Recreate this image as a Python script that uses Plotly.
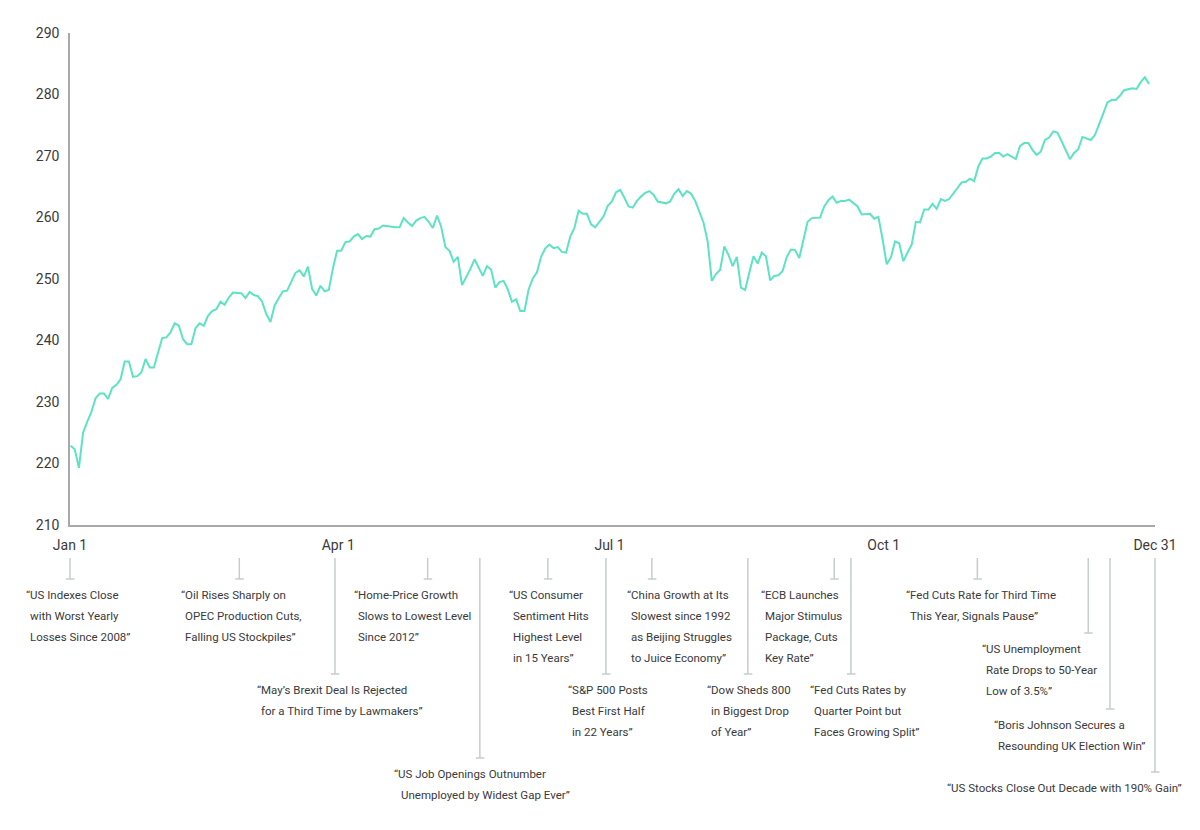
import numpy as np
import plotly.graph_objects as go

# ---------------- data ----------------
values = [
    222.9, 222.3, 219.3, 225.0, 226.8, 228.4, 230.6, 231.4, 231.4, 230.5,
    232.3, 232.8, 233.7, 236.6, 236.6, 234.1, 234.2, 234.8, 237.0, 235.6,
    235.6, 237.9, 240.4, 240.5, 241.3, 242.8, 242.4, 240.2, 239.4, 239.4,
    242.0, 242.8, 242.4, 244.0, 244.8, 245.1, 246.3, 245.8, 247.0, 247.8,
    247.8, 247.7, 246.9, 247.9, 247.4, 247.2, 246.3, 244.3, 243.0, 245.7,
    246.9, 248.0, 248.1, 249.7, 251.0, 251.4, 250.4, 252.0, 248.4, 247.3,
    248.9, 248.0, 248.2, 251.7, 254.6, 254.6, 256.0, 256.1, 256.9, 257.3,
    256.5, 257.0, 256.9, 258.1, 258.2, 258.7, 258.6, 258.4, 258.4, 258.4,
    259.9, 259.2, 258.6, 259.5, 259.9, 260.1, 259.3, 258.3, 260.3, 258.5,
    255.2, 254.6, 252.8, 253.6, 249.0, 250.3, 251.6, 253.2, 251.9, 250.5,
    252.1, 251.5, 248.6, 249.5, 249.7, 248.3, 246.3, 246.7, 244.8, 244.8,
    248.3, 250.1, 251.1, 253.6, 255.0, 255.6, 255.0, 255.2, 254.4, 254.3,
    256.9, 258.3, 261.1, 260.6, 260.6, 258.9, 258.4, 259.4, 260.2, 261.9,
    262.6, 264.1, 264.5, 263.2, 261.8, 261.6, 262.7, 263.4, 264.0, 264.3,
    263.7, 262.6, 262.5, 262.3, 262.6, 263.9, 264.6, 263.5, 264.3, 263.9,
    262.7, 261.1, 259.2, 256.1, 249.7, 250.8, 251.5, 255.3, 253.9, 252.1,
    253.6, 248.6, 248.2, 251.0, 253.7, 252.5, 254.3, 253.7, 249.8, 250.5,
    250.6, 251.3, 253.6, 254.8, 254.7, 253.4, 256.2, 259.3, 259.9, 260.0,
    260.0, 261.8, 262.8, 263.4, 262.4, 262.7, 262.7, 262.9, 262.4, 261.8,
    260.5, 260.6, 260.6, 259.8, 260.1, 256.5, 252.4, 253.5, 256.1, 255.8,
    252.9, 254.3, 255.6, 259.3, 259.2, 261.3, 261.3, 262.2, 261.4, 263.0,
    262.7, 263.0, 263.9, 264.7, 265.7, 265.8, 266.3, 265.9, 268.3, 269.6,
    269.6, 269.9, 270.5, 270.5, 269.9, 270.3, 269.9, 269.5, 271.6, 272.1,
    272.1, 271.0, 270.2, 270.7, 272.6, 273.0, 274.0, 273.8, 272.4, 270.9,
    269.5, 270.5, 271.1, 273.1, 272.9, 272.6, 273.4, 275.3, 276.9, 278.7,
    279.1, 279.1, 279.8, 280.7, 280.9, 281.0, 280.9, 282.0, 282.8, 281.7,
]
first_day, last_day = 0.2, 362.0          # days since Jan 1 of first / last close
days = np.linspace(first_day, last_day, len(values))   # evenly spaced trading sessions

tick_days = [0, 90, 181, 273, 364]
tick_labels = ["Jan 1", "Apr 1", "Jul 1", "Oct 1", "Dec 31"]
y_ticks = [210, 220, 230, 240, 250, 260, 270, 280, 290]

event_days = [0, 56.8, 120.0, 88.9, 137.5, 160.3, 179.8, 195.2, 227.4,
              256.4, 262.0, 304.4, 341.6, 348.9, 364]
event_texts = [
    ["“US Indexes Close", "with Worst Yearly", "Losses Since 2008”"],
    ["“Oil Rises Sharply on", "OPEC Production Cuts,", "Falling US Stockpiles”"],
    ["“Home-Price Growth", "Slows to Lowest Level", "Since 2012”"],
    ["“May’s Brexit Deal Is Rejected", "for a Third Time by Lawmakers”"],
    ["“US Job Openings Outnumber", "Unemployed by Widest Gap Ever”"],
    ["“US Consumer", "Sentiment Hits", "Highest Level", "in 15 Years”"],
    ["“S&P 500 Posts", "Best First Half", "in 22 Years”"],
    ["“China Growth at Its", "Slowest since 1992", "as Beijing Struggles", "to Juice Economy”"],
    ["“Dow Sheds 800", "in Biggest Drop", "of Year”"],
    ["“ECB Launches", "Major Stimulus", "Package, Cuts", "Key Rate”"],
    ["“Fed Cuts Rates by", "Quarter Point but", "Faces Growing Split”"],
    ["“Fed Cuts Rate for Third Time", "This Year, Signals Pause”"],
    ["“US Unemployment", "Rate Drops to 50-Year", "Low of 3.5%”"],
    ["“Boris Johnson Secures a", "Resounding UK Election Win”"],
    ["“US Stocks Close Out Decade with 190% Gain”"],
]

# ---------------- layout / style ----------------
W, H = 1200, 830
PAGE = 8                                 # html body margin
# plot area in screen pixels
L, R, T, B = 70, 1155, 33, 525
LINE_TOP = 557                          # top of event leader lines (screen px)
event_drop = [579, 579, 579, 674, 758, 579, 674, 579, 674, 579, 674, 579, 633, 709, 772]
event_text_left = [25, 180, 353, 256, 393, 508, 567, 626, 706, 760, 809, 905, 981, 993, 946]
event_indent = [4, 4, 4, 4, 7, 4, 4, 4, 4, 4, 4, 4, 4, 4, 4]
LINE_GAP = 21

FONT = "Roboto, sans-serif"
TEXT_COLOR = "#3a3a3a"
AXIS_COLOR = "#a9a9a9"
LEADER_COLOR = "#c6cdcd"
LINE_COLOR = "#5ee2c4"


def ypaper(p):
    return (B - p) / (B - T)


def xpaper(p):
    return (p - L) / (R - L)


fig = go.Figure()
fig.add_trace(go.Scatter(x=days, y=values, mode="lines",
                         line=dict(color=LINE_COLOR, width=2), hoverinfo="skip"))

for d, bottom, left, indent, lines in zip(event_days, event_drop, event_text_left,
                                          event_indent, event_texts):
    # vertical leader
    fig.add_annotation(x=d, xref="x", y=ypaper(bottom), yref="paper",
                       ax=0, ay=-(bottom - LINE_TOP), axref="pixel", ayref="pixel",
                       text=" ", font=dict(size=1), showarrow=True, arrowhead=0,
                       arrowwidth=1.5, arrowcolor=LEADER_COLOR, standoff=0,
                       startstandoff=0, borderpad=0)
    # small cap bar
    fig.add_annotation(x=d, xref="x", y=ypaper(bottom), yref="paper",
                       ax=-9, ay=0, axref="pixel", ayref="pixel", xshift=4.5,
                       text=" ", font=dict(size=1), showarrow=True, arrowhead=0,
                       arrowwidth=1.5, arrowcolor=LEADER_COLOR, standoff=0,
                       startstandoff=0, borderpad=0)
    for i, ln in enumerate(lines):
        fig.add_annotation(x=xpaper(left), xref="paper", xanchor="left",
                           y=ypaper(bottom + 16 + i * LINE_GAP), yref="paper",
                           yanchor="middle", text=ln, showarrow=False,
                           xshift=0 if i == 0 else indent, borderpad=0,
                           font=dict(family=FONT, size=11.5, color=TEXT_COLOR))

fig.update_layout(
    width=W, height=H,
    margin=dict(l=L - PAGE, r=W - R + PAGE, t=T - PAGE, b=H - B + PAGE, pad=0),
    paper_bgcolor="white", plot_bgcolor="white",
    showlegend=False,
    font=dict(family=FONT, size=14, color=TEXT_COLOR),
    xaxis=dict(range=[0, 364], tickvals=tick_days, ticktext=tick_labels,
               showgrid=False, zeroline=False, showline=True, linecolor=AXIS_COLOR,
               linewidth=1.5, ticks="", ticklabelstandoff=6,
               tickfont=dict(family=FONT, size=14, color=TEXT_COLOR)),
    yaxis=dict(range=[210, 290], tickvals=y_ticks, showgrid=False, zeroline=False,
               showline=True, linecolor=AXIS_COLOR, linewidth=1.5, ticks="",
               ticklabelstandoff=6,
               tickfont=dict(family=FONT, size=14, color=TEXT_COLOR)),
)

fig.write_html("out.html")
